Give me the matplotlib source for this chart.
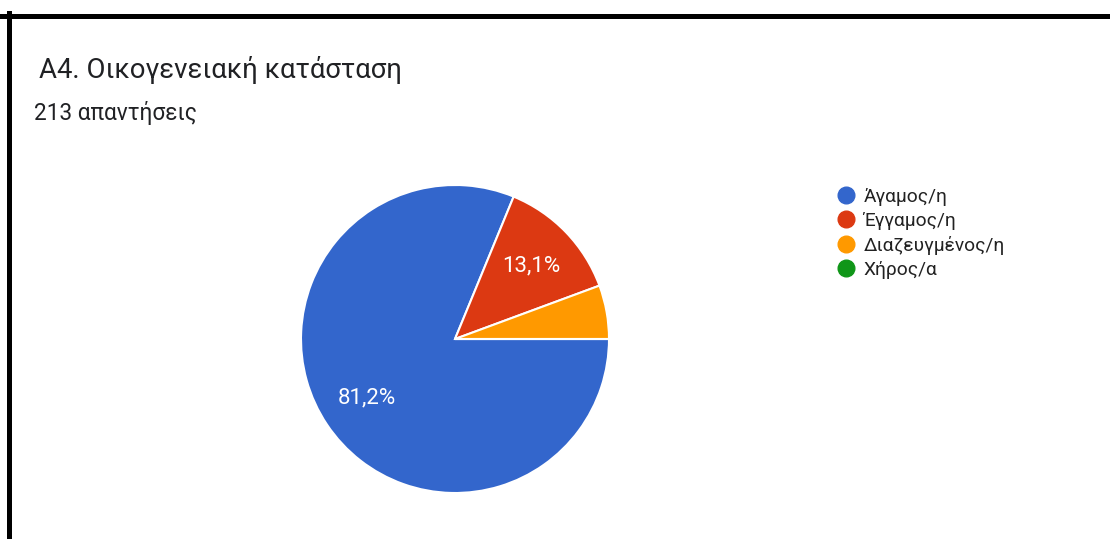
import matplotlib
matplotlib.use("Agg")
import matplotlib.pyplot as plt
from matplotlib.lines import Line2D

plt.rcParams['font.family'] = ['Roboto', 'DejaVu Sans']

title = "Α4. Οικογενειακή κατάσταση"
subtitle = "213 απαντήσεις"
categories = ["Άγαμος/η", "Έγγαμος/η", "Διαζευγμένος/η", "Χήρος/α"]
counts = [173, 28, 12, 0]
colors = ["#3366cc", "#dc3912", "#ff9900", "#109618"]

W, H = 1110, 539
fig = plt.figure(figsize=(W / 100, H / 100), dpi=100)
fig.patch.set_facecolor("white")

# pie axes: centre (455, 339), radius 154 px
cx, cy, r = 455, 339, 154
ax = fig.add_axes([(cx - r) / W, (H - cy - r) / H, 2 * r / W, 2 * r / H])
ax.set_aspect("equal")

def fmt(p):
    return (f"{p:.1f}%".replace(".", ",")) if p >= 8 else ""

wedges, texts, autotexts = ax.pie(
    counts, colors=colors, startangle=0, counterclock=False,
    autopct=fmt, pctdistance=0.685, radius=1.0,
    wedgeprops=dict(edgecolor="white", linewidth=1.5),
    textprops=dict(color="white", fontsize=16),
)
ax.set_xlim(-1, 1)
ax.set_ylim(-1, 1)
ax.axis("off")

# titles
fig.text(39 / W, 1 - 70 / H, title, fontsize=19.8, color="#202124",
         ha="left", va="center")
fig.text(34 / W, 1 - 113 / H, subtitle, fontsize=16.3, color="#202124",
         ha="left", va="center")

# legend
handles = [Line2D([0], [0], marker="o", linestyle="none", markersize=12,
                  markerfacecolor=c, markeredgecolor=c) for c in colors]
fig.legend(handles, categories, loc="upper left",
           bbox_to_anchor=(828 / W, 1 - 180.5 / H), frameon=False,
           fontsize=13.8, labelspacing=0.31, handletextpad=0.35,
           handlelength=1.1, borderaxespad=0, labelcolor="#222222")

# border (top and left, black)
fig.add_artist(Line2D([0, 1], [1 - 15.5 / H, 1 - 15.5 / H], color="black",
                      linewidth=3.6, transform=fig.transFigure))
fig.add_artist(Line2D([8.5 / W, 8.5 / W], [0, 1 - 13 / H], color="black",
                      linewidth=3.6, transform=fig.transFigure))

fig.savefig("out.png", dpi=100)
